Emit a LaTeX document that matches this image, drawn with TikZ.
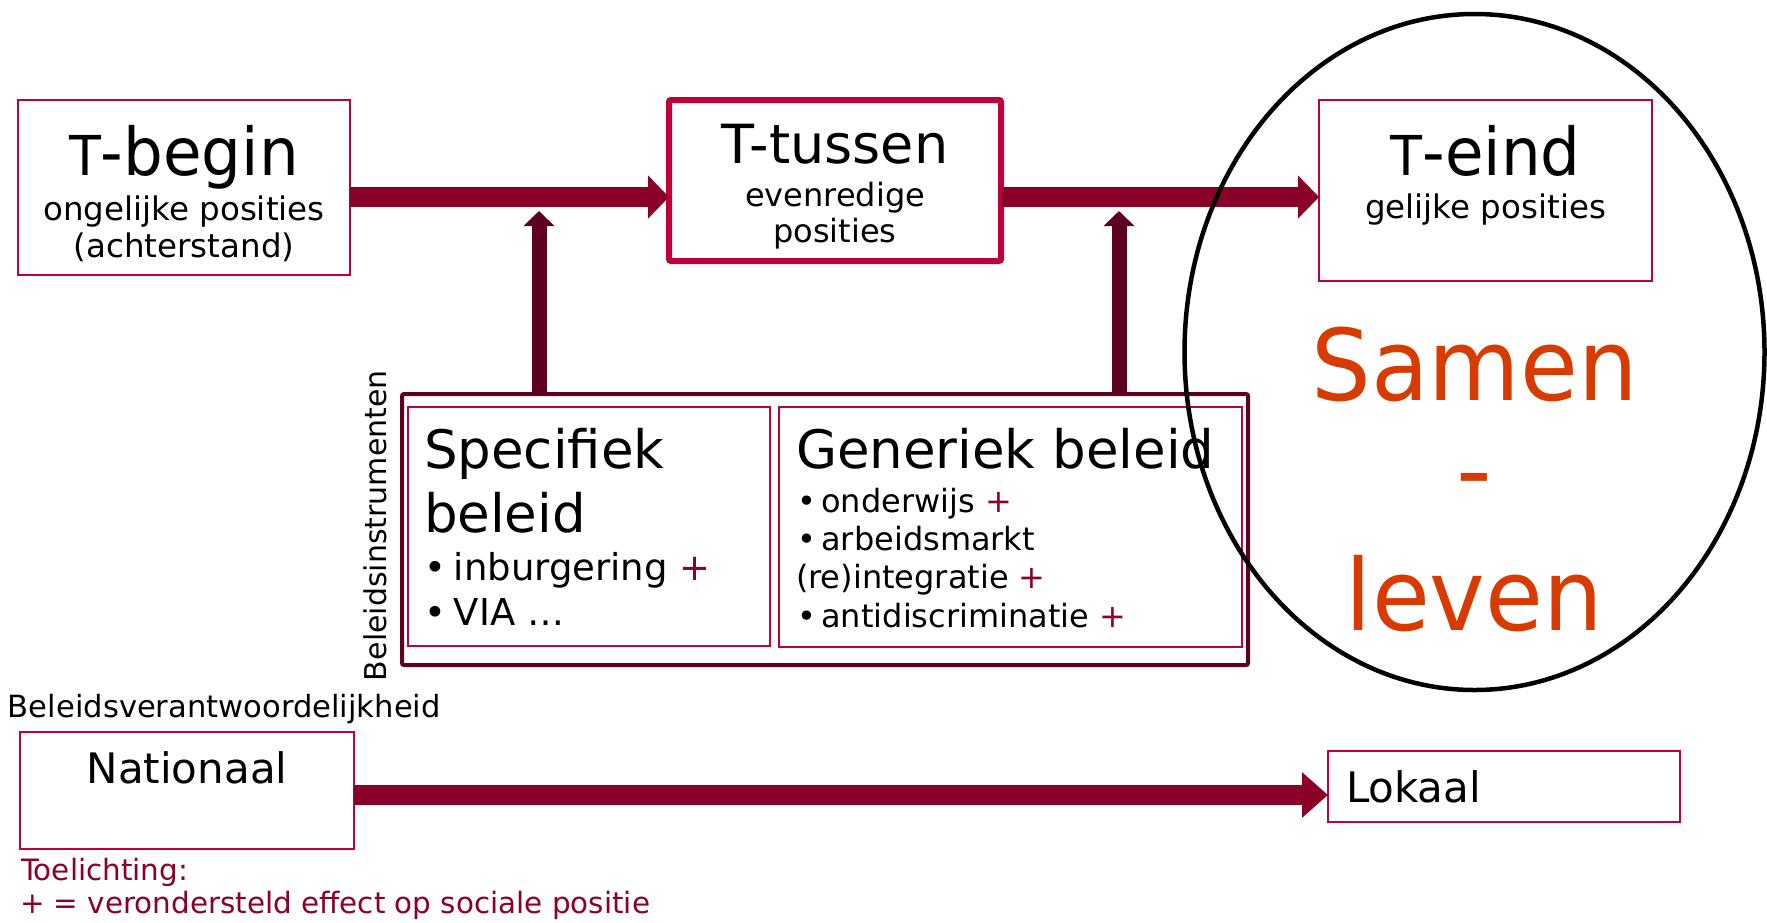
\documentclass[tikz,border=0pt]{standalone}
\usepackage{fontspec}
\setmainfont{DejaVu Sans}
\usetikzlibrary{arrows.meta,shapes.geometric}
\definecolor{boxred}{RGB}{192,0,58}
\definecolor{arrowred}{RGB}{138,0,41}
\definecolor{darkarrow}{RGB}{94,0,32}
\definecolor{samenorange}{RGB}{216,59,1}
\definecolor{notered}{RGB}{138,0,41}
\newcommand{\myfs}[1]{\fontsize{#1pt}{#1pt}\selectfont}
\newcommand{\plus}{\textcolor{arrowred}{+}}
\newcommand{\narrow}[1]{\scalebox{0.95}[1]{#1}}
\tikzset{
  thinbox/.style={draw=boxred, line width=2pt, rectangle, inner sep=0pt, outer sep=0pt},
  thickbox/.style={draw=boxred, line width=6pt, rectangle, rounded corners=2pt, inner sep=0pt, outer sep=0pt},
  instrbox/.style={draw=darkarrow, line width=4pt, rectangle, rounded corners=2pt, inner sep=0pt, outer sep=0pt},
  txt/.style={inner sep=0pt, outer sep=0pt, anchor=base},
  txtl/.style={inner sep=0pt, outer sep=0pt, anchor=base west},
  bigarrow/.style={draw=arrowred, line width=20pt, -{Triangle[length=21pt,width=42pt]}, fill=arrowred},
  lowarrow/.style={draw=arrowred, line width=20pt, -{Triangle[length=26pt,width=44pt]}, fill=arrowred},
  uparrow/.style={draw=darkarrow, line width=15pt, -{Triangle[length=15pt,width=30pt]}, fill=darkarrow},
}
\begin{document}
\begin{tikzpicture}[x=1pt,y=-1pt]
\useasboundingbox (0,0) rectangle (1767,922);
\fill[white] (0,0) rectangle (1767,922);

% boxes
\node[thinbox, minimum width=332pt, minimum height=175pt] (tbegin) at (184,187.5) {};
\node[thickbox, minimum width=332pt, minimum height=161pt] (ttussen) at (835,180.5) {};
\node[thinbox, minimum width=333pt, minimum height=181pt] (teind) at (1485.5,190.5) {};
\node[instrbox, minimum width=846pt, minimum height=271pt] (instr) at (825,529.5) {};
\node[thinbox, minimum width=362pt, minimum height=239pt] (spec) at (589,526.5) {};
\node[thinbox, minimum width=463pt, minimum height=240pt] (gen) at (1010.5,527) {};
\node[thinbox, minimum width=334pt, minimum height=117pt] (nat) at (187,790.5) {};
\node[thinbox, minimum width=352pt, minimum height=71pt] (lok) at (1504,786.5) {};

% helper coordinates
\coordinate (row1) at (0,197);
\coordinate (row2) at (0,795);
\coordinate (v1tip) at (539,211);
\coordinate (v2tip) at (1119,211);

% arrows
\draw[bigarrow] (tbegin.east |- row1) -- (ttussen.west |- row1);
\draw[bigarrow] (ttussen.east |- row1) -- (teind.west |- row1);
\draw[uparrow] (instr.north -| v1tip) -- (v1tip);
\draw[uparrow] (instr.north -| v2tip) -- (v2tip);
\draw[lowarrow] (nat.east |- row2) -- (lok.west |- row2);

% T-begin
\node[txt] (tb1) at (184,175) {\narrow{{\myfs{55}T}{\myfs{66}-begin}}};
\node[txt] (tb2) at (184,220) {\myfs{32.5}ongelijke posities};
\node[txt] (tb3) at (184,257) {\myfs{32.5}(achterstand)};
% T-tussen
\node[txt] (tt1) at (835,163) {\myfs{54}T-tussen};
\node[txt] (tt2) at (835,206) {\myfs{32}evenredige};
\node[txt] (tt3) at (835,242) {\myfs{32}posities};
% T-eind
\node[txt] (te1) at (1485.5,175) {\narrow{{\myfs{55}T}{\myfs{66}-eind}}};
\node[txt] (te2) at (1485.5,218) {\myfs{32.5}gelijke posities};

% Specifiek
\node[txtl] (sp1) at (424,468) {\myfs{53}Specifiek};
\node[txtl] (sp2) at (424,532) {\myfs{53}beleid};
\node[txtl] (sp3) at (424,580) {\myfs{37}•\hspace{8pt}inburgering \plus};
\node[txtl] (sp4) at (424,625) {\myfs{37}•\hspace{8pt}VIA …};

% Generiek
\node[txtl] (ge1) at (796,468) {\myfs{53}Generiek beleid};
\node[txtl] (ge2) at (797,512) {\myfs{32}•\hspace{5.5pt}onderwijs \plus};
\node[txtl] (ge3) at (797,550) {\myfs{32}•\hspace{5.5pt}arbeidsmarkt};
\node[txtl] (ge4) at (796,588) {\myfs{32}(re)integratie \plus};
\node[txtl] (ge5) at (797,627) {\myfs{32}•\hspace{5.5pt}antidiscriminatie \plus};

% side labels
\node[txtl, rotate=90] (instrlabel) at (386,681) {\myfs{30}Beleidsinstrumenten};
\node[txtl] (verantw) at (8,717) {\myfs{30.6}Beleidsverantwoordelijkheid};
\node[txt] (natlabel) at (187,783) {\myfs{42}Nationaal};
\node[txtl] (loklabel) at (1346,802) {\myfs{42}Lokaal};

% note
\node[txtl, text=notered] (note1) at (21,880) {\myfs{29.4}Toelichting:};
\node[txtl, text=notered] (note2) at (20,913) {\myfs{29.4}+ = verondersteld effect op sociale positie};

% Samen-leven
\node[txt, text=samenorange] (sl1) at (1474.5,400) {\narrow{\myfs{99}Samen}};
\node[txt, text=samenorange] (sl2) at (1474.5,504) {\myfs{99}-};
\node[txt, text=samenorange] (sl3) at (1474.5,630) {\narrow{\myfs{99}leven}};

% ellipse
\node[draw=black, line width=4.5pt, ellipse, minimum width=580pt, minimum height=676pt, inner sep=0pt] (samenleven) at (1474.5,352) {};
\end{tikzpicture}
\end{document}
